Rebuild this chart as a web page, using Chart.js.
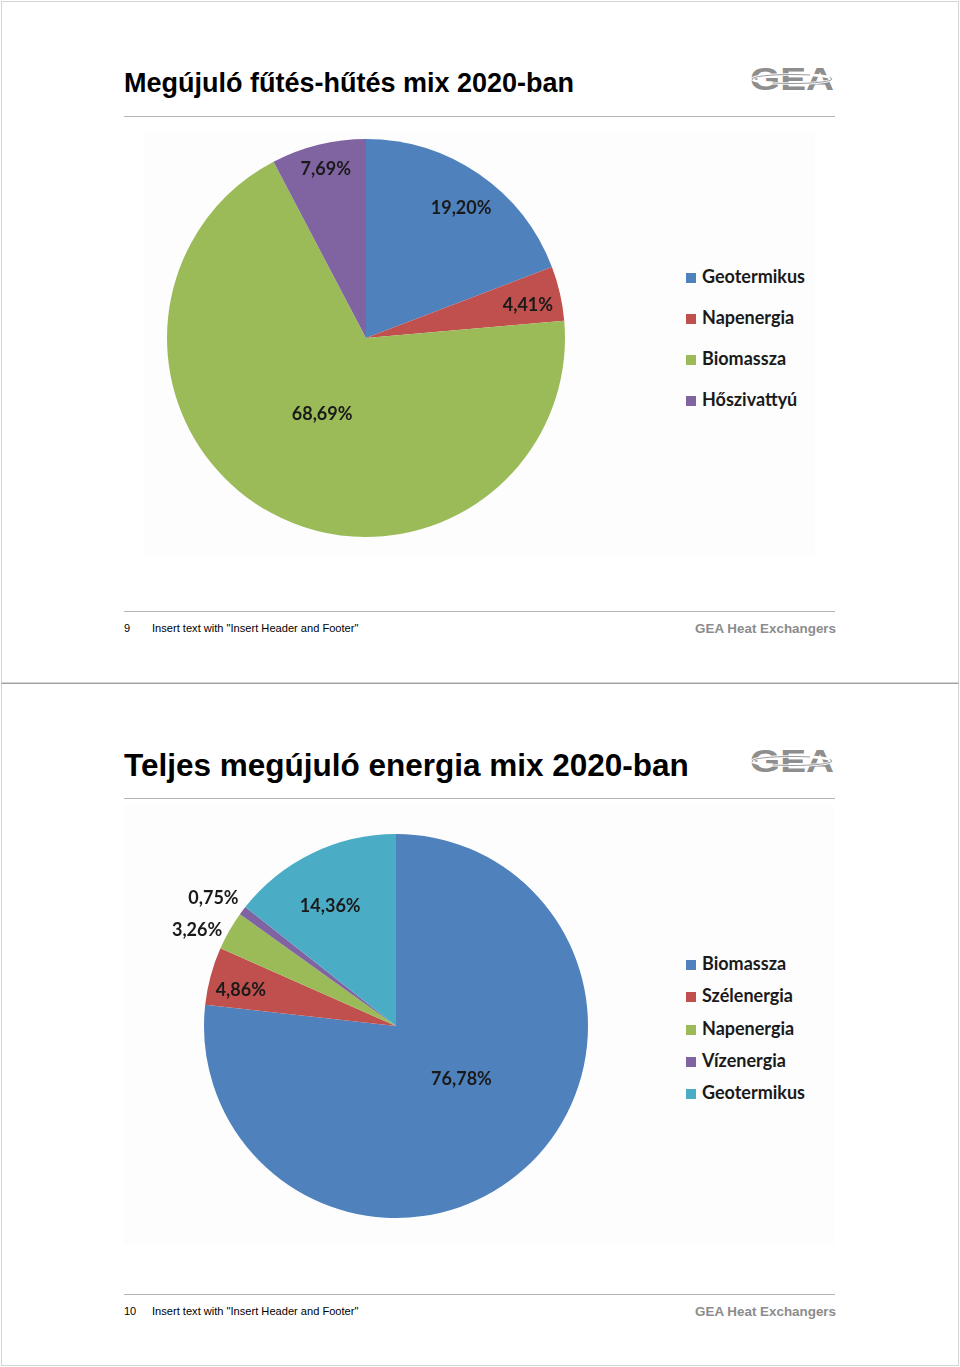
<!DOCTYPE html>
<html>
<head>
<meta charset="utf-8">
<script src="https://cdn.jsdelivr.net/npm/chart.js@4.4.1/dist/chart.umd.min.js"></script>
<style>
  html,body{margin:0;padding:0;background:#fff;}
  body{width:960px;height:1367px;position:relative;overflow:hidden;font-family:"Liberation Sans",Arial,sans-serif;}
  .abs{position:absolute;}
  .frame{position:absolute;left:1px;width:956px;border:1px solid #d4d4d4;}
  .title{position:absolute;left:124px;font-weight:bold;color:#000;white-space:nowrap;line-height:1;}
  .rule{position:absolute;left:124px;width:711px;height:1px;background:#b4b4b4;}
  .fnum{position:absolute;left:124px;font-size:11px;color:#000;}
  .ftxt{position:absolute;left:152px;font-size:11.1px;color:#000;}
  .fbrand{position:absolute;right:124px;font-size:13.4px;font-weight:bold;color:#8c8c8c;}
  .bg{position:absolute;background:#fdfdfd;}
  .leg{position:absolute;left:686px;font-family:Lato,"Open Sans",sans-serif;font-weight:bold;font-size:18px;color:#1a1a1a;white-space:nowrap;}
  .leg i{display:inline-block;width:10px;height:10px;margin-right:6px;vertical-align:0px;}
  canvas{position:absolute;}
</style>
</head>
<body>
<div class="frame" style="top:1px;height:680px;"></div>
<div class="frame" style="top:683px;height:681px;border-top-color:#a0a0a0;"></div>

<!-- Slide 1 -->
<div class="title" style="top:70px;font-size:27px;">Megújuló fűtés-hűtés mix 2020-ban</div>
<svg class="abs" style="left:748px;top:62px" width="90" height="34" viewBox="0 0 90 34">
  <text x="2" y="28" font-family="Liberation Sans,Arial" font-weight="bold" font-size="32" fill="#8e8e8e" textLength="84" lengthAdjust="spacingAndGlyphs">GEA</text>
  <ellipse cx="44" cy="17" rx="40" ry="4.5" fill="none" stroke="#ffffff" stroke-width="2.5"/>
  <ellipse cx="44" cy="17" rx="40" ry="4.5" fill="none" stroke="#9a9a9a" stroke-width="1" stroke-dasharray="60 20"/>
</svg>
<div class="rule" style="top:116px;"></div>
<div class="bg" style="left:144px;top:131px;width:671px;height:424px;"></div>
<canvas id="c1" width="440" height="440" style="left:146px;top:118px;"></canvas>
<div id="leg1"></div>
<div class="rule" style="top:611px;"></div>
<div class="fnum" style="top:622px;">9</div>
<div class="ftxt" style="top:622px;">Insert text with "Insert Header and Footer"</div>
<div class="fbrand" style="top:621px;">GEA Heat Exchangers</div>

<!-- Slide 2 -->
<div class="title" style="top:750px;font-size:31.5px;">Teljes megújuló energia mix 2020-ban</div>
<svg class="abs" style="left:748px;top:744px" width="90" height="34" viewBox="0 0 90 34">
  <text x="2" y="28" font-family="Liberation Sans,Arial" font-weight="bold" font-size="32" fill="#8e8e8e" textLength="84" lengthAdjust="spacingAndGlyphs">GEA</text>
  <ellipse cx="44" cy="17" rx="40" ry="4.5" fill="none" stroke="#ffffff" stroke-width="2.5"/>
  <ellipse cx="44" cy="17" rx="40" ry="4.5" fill="none" stroke="#9a9a9a" stroke-width="1" stroke-dasharray="60 20"/>
</svg>
<div class="rule" style="top:798px;"></div>
<div class="bg" style="left:124px;top:805px;width:711px;height:440px;"></div>
<canvas id="c2" width="520" height="440" style="left:136px;top:806px;"></canvas>
<div id="leg2"></div>
<div class="rule" style="top:1294px;"></div>
<div class="fnum" style="top:1305px;">10</div>
<div class="ftxt" style="top:1305px;">Insert text with "Insert Header and Footer"</div>
<div class="fbrand" style="top:1304px;">GEA Heat Exchangers</div>

<script>
// ---- data ----
const heatCoolLabels = ['Geotermikus', 'Napenergia', 'Biomassza', 'Hőszivattyú'];
const heatCoolValues = [19.20, 4.41, 68.69, 7.69];
const heatCoolColors = ['#4F81BD', '#C0504D', '#9BBB59', '#8064A2'];

const totalLabels = ['Biomassza', 'Szélenergia', 'Napenergia', 'Vízenergia', 'Geotermikus'];
const totalValues = [76.78, 4.86, 3.26, 0.75, 14.36];
const totalColors = ['#4F81BD', '#C0504D', '#9BBB59', '#8064A2', '#4BACC6'];

// ---- label placement style (radius fraction, angle shift in degrees) ----
const heatCoolLabelRadius = [0.81, 0.83, 0.44, 0.87];
const heatCoolLabelShift = [1.6, 1.5, 1.4, 0.4];
const totalLabelRadius = [0.44, 0.83, 1.15, 1.16, 0.71];
const totalLabelShift = [-9, -2, -4, -2, -3];

function fmt(v) { return v.toFixed(2).replace('.', ',') + '%'; }

const pieLabels = {
  id: 'pieLabels',
  afterDatasetsDraw(chart, args, opts) {
    const ctx = chart.ctx;
    const meta = chart.getDatasetMeta(0);
    const vals = chart.data.datasets[0].data;
    ctx.save();
    ctx.font = 'bold 18px Lato, "Open Sans", sans-serif';
    ctx.fillStyle = '#1a1a1a';
    ctx.textAlign = 'center';
    ctx.textBaseline = 'middle';
    meta.data.forEach((arc, i) => {
      const p = arc.getProps(['x', 'y', 'startAngle', 'endAngle', 'outerRadius'], true);
      const mid = (p.startAngle + p.endAngle) / 2 + opts.shift[i] * Math.PI / 180;
      const r = p.outerRadius * opts.radius[i];
      ctx.fillText(fmt(vals[i]), p.x + Math.cos(mid) * r, p.y + Math.sin(mid) * r);
    });
    ctx.restore();
  }
};

function makePie(id, labels, values, colors, padding, radius, shift) {
  return new Chart(document.getElementById(id), {
    type: 'pie',
    data: { labels: labels, datasets: [{ data: values, backgroundColor: colors, borderWidth: 0 }] },
    options: {
      responsive: false,
      animation: false,
      layout: { padding: padding },
      plugins: {
        legend: { display: false },
        tooltip: { enabled: false },
        pieLabels: { radius: radius, shift: shift }
      }
    },
    plugins: [pieLabels]
  });
}

makePie('c1', heatCoolLabels, heatCoolValues, heatCoolColors, 21, heatCoolLabelRadius, heatCoolLabelShift);
makePie('c2', totalLabels, totalValues, totalColors, { left: 68, right: 68, top: 28, bottom: 28 }, totalLabelRadius, totalLabelShift);

function legend(id, labels, colors, firstY, step) {
  const host = document.getElementById(id);
  labels.forEach((l, i) => {
    const d = document.createElement('div');
    d.className = 'leg';
    d.style.top = (firstY + i * step - 12) + 'px';
    d.innerHTML = '<i style="background:' + colors[i] + '"></i>' + l;
    host.appendChild(d);
  });
}
legend('leg1', heatCoolLabels, heatCoolColors, 277, 41);
legend('leg2', totalLabels, totalColors, 964, 32.25);
</script>
</body>
</html>
